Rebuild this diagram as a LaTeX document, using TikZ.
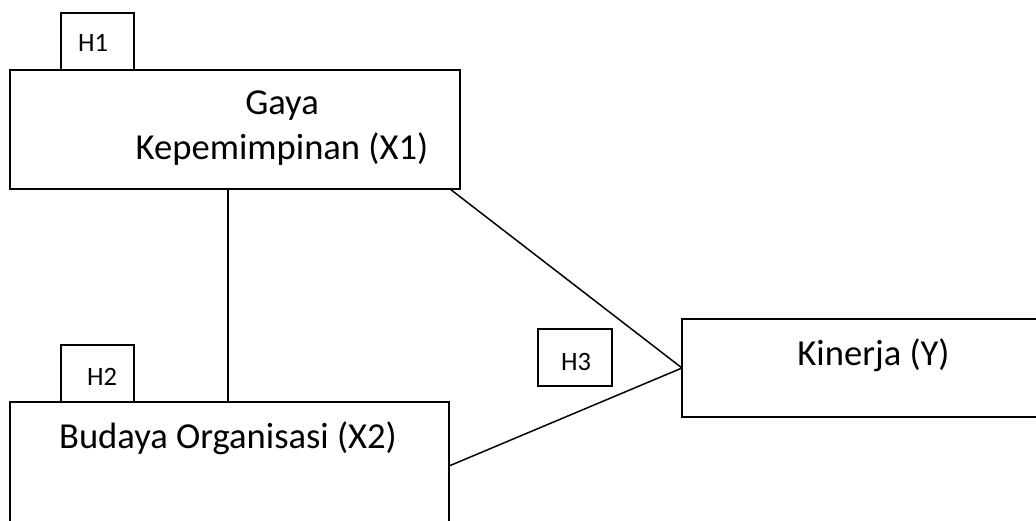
\documentclass[tikz,border=0pt]{standalone}
\usepackage{fontspec}
\setmainfont{Carlito}
\begin{document}
\begin{tikzpicture}[x=1pt,y=-1pt,
  box/.style={draw,line width=1.5pt,rectangle,inner sep=0pt,outer sep=0pt,anchor=north west},
  big/.style={font=\fontsize{36.6}{44.6}\selectfont,inner sep=0pt,anchor=base},
  small/.style={font=\fontsize{26.5}{32}\selectfont,inner sep=0pt,anchor=base},
  link/.style={line width=1.5pt}]
\useasboundingbox (0,0) rectangle (1036,521);
\clip (0,0) rectangle (1036,521);
% boxes
\node[box,minimum width=450pt,minimum height=119pt] (x1) at (10,70) {};
\node[box,minimum width=73pt,minimum height=57pt] (h1) at (61,13) {};
\node[box,minimum width=439pt,minimum height=128pt] (x2) at (10,402) {};
\node[box,minimum width=73pt,minimum height=57pt] (h2) at (61,345) {};
\node[box,minimum width=74pt,minimum height=57pt] (h3) at (538,329) {};
\node[box,minimum width=380pt,minimum height=98pt] (y) at (682,319) {};
% texts
\node[big] (t1a) at (282,115) {Gaya};
\node[big] (t1b) at (282,160) {Kepemimpinan (X1)};
\node[big] (t2) at (228,448) {Budaya Organisasi (X2)};
\node[big] (ty) at (873.5,365) {Kinerja (Y)};
\node[small] (th1) at (93,52) {H1};
\node[small] (th2) at (102,385) {H2};
\node[small] (th3) at (576,370) {H3};
% connectors
\coordinate (vx) at (228,0);
\coordinate (dx) at (450,0);
\draw[link] (x1.south -| vx) -- (x2.north -| vx);
\draw[link] (x1.south -| dx) -- (y.west);
\draw[link] (x2.east) -- (y.west);
\end{tikzpicture}
\end{document}
